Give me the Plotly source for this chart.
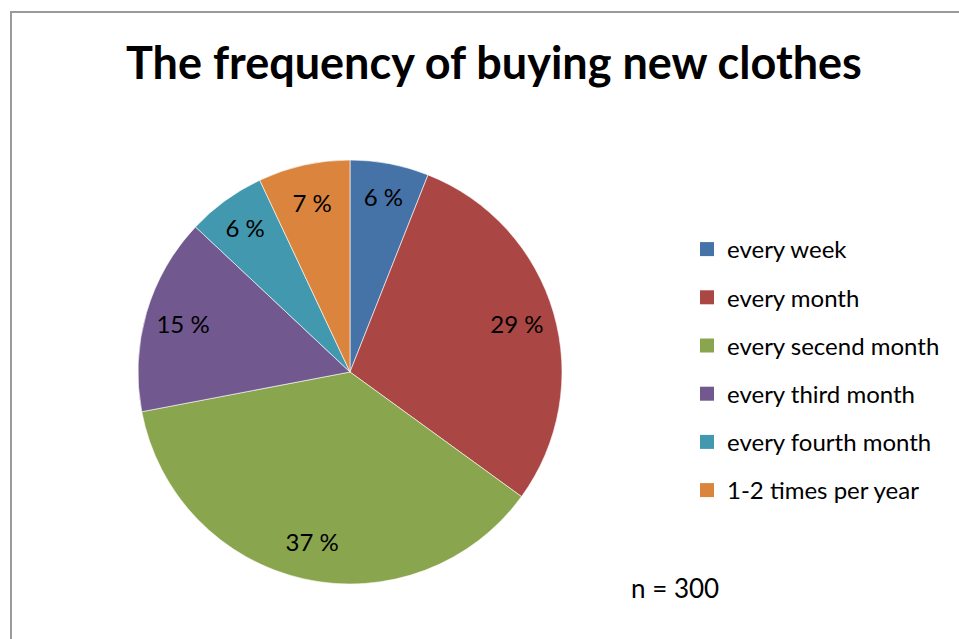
import plotly.graph_objects as go

# Survey answers (n = 300), share of respondents in percent
categories = ["every week", "every month", "every secend month",
              "every third month", "every fourth month", "1-2 times per year"]
shares = [6, 29, 37, 15, 6, 7]
colors = ["#4572A7", "#AA4643", "#89A54E", "#71588F", "#4198AF", "#DB843D"]
value_labels = [f"{v} %" for v in shares]

W, H = 959, 639
cx, cy, R = 350, 372, 212
dom_x = [(cx - R) / W, (cx + R) / W]
dom_y = [(H - cy - R) / H, (H - cy + R) / H]
FONT = "Lato, sans-serif"

fig = go.Figure()

# Filled slices, clockwise from 12 o'clock
fig.add_trace(go.Pie(
    labels=categories, values=shares, sort=False, direction="clockwise",
    rotation=0, marker=dict(colors=colors, line=dict(color="rgba(255,255,255,0.6)", width=1)),
    textinfo="none", hoverinfo="label+percent", domain=dict(x=dom_x, y=dom_y),
    showlegend=False,
))

# Transparent ring carrying the value labels near the rim
fig.add_trace(go.Pie(
    labels=categories, values=shares, sort=False, direction="clockwise",
    rotation=0, hole=0.64, text=value_labels, textinfo="text",
    textposition="inside", insidetextorientation="horizontal",
    insidetextfont=dict(family=FONT, size=24, color="black"),
    marker=dict(colors=["rgba(0,0,0,0)"] * len(shares), line=dict(width=0)),
    hoverinfo="skip", domain=dict(x=dom_x, y=dom_y), showlegend=False,
))

# Legend entries, one group each so the rows are spaced apart
for name, col in zip(categories, colors):
    fig.add_trace(go.Scatter(
        x=[None], y=[None], mode="markers", name=name, legendgroup=name,
        marker=dict(symbol="square", size=14, color=col),
    ))

fig.update_layout(
    width=W, height=H, margin=dict(l=0, r=0, t=0, b=0),
    paper_bgcolor="white", plot_bgcolor="white",
    xaxis=dict(visible=False), yaxis=dict(visible=False),
    uniformtext=dict(minsize=24, mode="show"),
    title=dict(text="<b>The frequency of buying new clothes</b>",
               x=0.515, xanchor="center", y=1 - 63 / H, yanchor="middle",
               font=dict(family=FONT, size=45, color="black")),
    legend=dict(x=687 / W, xanchor="left", y=1 - 227 / H, yanchor="top",
                font=dict(family=FONT, size=24, color="black"),
                itemsizing="trace", tracegroupgap=14, traceorder="grouped",
                bgcolor="rgba(0,0,0,0)"),
    shapes=[dict(type="rect", xref="paper", yref="paper",
                 x0=11 / W, y0=-0.05, x1=1.05, y1=1 - 12 / H,
                 line=dict(color="#9a9a9a", width=2), fillcolor="rgba(0,0,0,0)")],
    annotations=[dict(text="n = 300", x=629 / W, y=1 - 588 / H, xref="paper", yref="paper",
                      xanchor="left", yanchor="middle", showarrow=False,
                      font=dict(family=FONT, size=26, color="black"))],
)

fig.write_html("out.html")
